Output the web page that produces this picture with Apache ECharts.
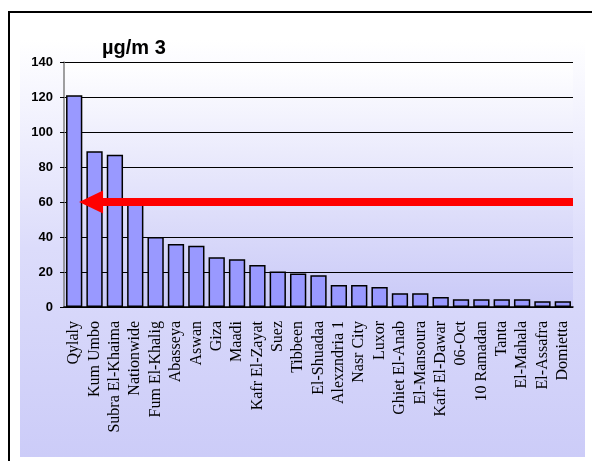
<!DOCTYPE html>
<html>
<head>
<meta charset="utf-8">
<script src="https://cdn.jsdelivr.net/npm/echarts@6/dist/echarts.min.js"></script>
<style>
  html, body { margin: 0; padding: 0; background: #fff; }
  #chart { width: 592px; height: 461px; }
</style>
</head>
<body>
<div id="chart"></div>
<script>
// stations, ordered as in the original slide
var stations = ['Qylaly', 'Kum Umbo', 'Subra El-Khaima', 'Nationwide', 'Fum El-Khalig',
  'Abasseya', 'Aswan', 'Giza', 'Maadi', 'Kafr El-Zayat', 'Suez', 'Tibbeen',
  'El-Shuadaa', 'Alexzndria 1', 'Nasr City', 'Luxor', 'Ghiet El-Anab',
  'El-Mansoura', 'Kafr El-Dawar', '06-Oct', '10 Ramadan', 'Tanta',
  'El-Mahala', 'El-Assafra', 'Domietta'];
// concentration, µg/m3
var concentration = [121, 89, 87, 60, 40, 36, 35, 28.5, 27.3, 24, 20.3, 19.1,
  18.2, 12.6, 12.6, 11.5, 7.9, 7.9, 5.7, 4.4, 4.4, 4.4, 4.4, 3.3, 3.3];
var yTicks = [0, 20, 40, 60, 80, 100, 120, 140];
// limit arrow: level and span on the helper axis (in category units)
var arrowLevel = 60;
var arrowSpan = [25, 1.33];

var chart = echarts.init(document.getElementById('chart'));

var option = {
  animation: false,
  backgroundColor: '#fff',
  graphic: [
    {
      type: 'rect', z: -10,
      shape: { x: 9, y: 12, width: 620, height: 500 },
      style: { fill: '#fff', stroke: '#000', lineWidth: 2 }
    },
    {
      type: 'rect', z: -9,
      shape: { x: 20, y: 40, width: 565, height: 417 },
      style: {
        fill: new echarts.graphic.LinearGradient(0, 0, 0, 1, [
          { offset: 0, color: '#ffffff' },
          { offset: 0.5, color: '#dcdcfb' },
          { offset: 1, color: '#ccccf8' }
        ])
      }
    }
  ],
  title: {
    text: 'µg/m 3',
    left: 97,
    top: 33,
    textStyle: { fontFamily: 'Liberation Sans', fontWeight: 'bold', fontSize: 20, color: '#000' }
  },
  grid: {
    left: 64, right: 19, top: 62, bottom: 154,
    show: true,
    borderWidth: 0,
    outerBoundsMode: 'none',
    backgroundColor: new echarts.graphic.LinearGradient(0, 0, 0, 1, [
      { offset: 0, color: '#ffffff' },
      { offset: 1, color: '#c9c9f7' }
    ])
  },
  xAxis: [
    {
      type: 'category',
      data: stations,
      axisLine: { lineStyle: { color: '#000', width: 1.5 } },
      axisTick: { length: 6, lineStyle: { color: '#000' } },
      axisLabel: {
        interval: 0, rotate: 90, margin: 14,
        fontFamily: 'Liberation Serif', fontSize: 16, color: '#000',
        padding: [0, 0, 14, 0]
      },
      splitLine: { show: false }
    },
    {
      type: 'value', min: 0, max: stations.length, show: false
    }
  ],
  yAxis: {
    type: 'value',
    min: yTicks[0], max: yTicks[yTicks.length - 1], interval: 20,
    axisLine: { show: true, lineStyle: { color: '#808080', width: 1.5 } },
    axisTick: { show: true, length: 4, lineStyle: { color: '#000' } },
    axisLabel: { fontFamily: 'Liberation Sans', fontWeight: 'bold', fontSize: 13, color: '#000', margin: 11 },
    splitLine: { show: true, lineStyle: { color: '#000', width: 1 } }
  },
  series: [
    {
      type: 'bar',
      data: concentration,
      barCategoryGap: '20%',
      itemStyle: { color: '#9999ff', borderColor: '#000', borderWidth: 1.5 },
      silent: true
    },
    {
      type: 'scatter',
      xAxisIndex: 1,
      data: [],
      z: 5,
      silent: true,
      markLine: {
        silent: true,
        symbol: ['none', 'triangle'],
        symbolSize: [23, 24],
        label: { show: false },
        lineStyle: { color: '#ff0000', width: 8, type: 'solid' },
        emphasis: { disabled: true },
        data: [[
          { coord: [arrowSpan[0], arrowLevel] },
          { coord: [arrowSpan[1], arrowLevel] }
        ]]
      }
    }
  ]
};

chart.setOption(option);
</script>
</body>
</html>
